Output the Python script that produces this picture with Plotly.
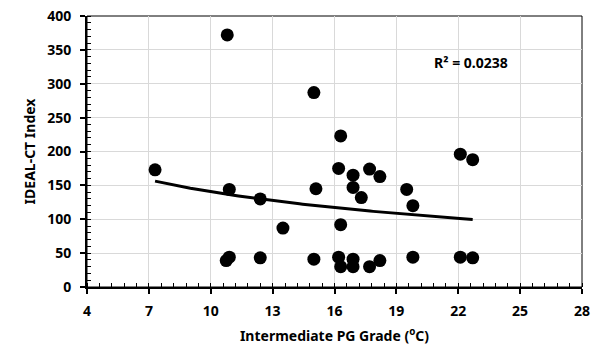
import numpy as np
import plotly.graph_objects as go

# Intermediate PG grade (°C) and IDEAL-CT index for each mixture
pg_grade = [7.3, 10.8, 10.9, 10.75, 10.9, 12.4, 12.4, 13.5, 15.0, 15.1, 15.0,
            16.2, 16.3, 16.3, 16.2, 16.3, 16.9, 16.9, 16.9, 16.9, 17.3, 17.7,
            17.7, 18.2, 18.2, 19.5, 19.8, 19.8, 22.1, 22.1, 22.7, 22.7]
ct_index = [173, 372, 144, 39, 44, 130, 43, 87, 287, 145, 41,
            175, 223, 92, 44, 30, 165, 147, 41, 30, 132, 174,
            30, 163, 39, 144, 120, 44, 196, 44, 188, 43]

x_ticks = [4, 7, 10, 13, 16, 19, 22, 25, 28]
y_ticks = [0, 50, 100, 150, 200, 250, 300, 350, 400]
r2_label = "R² = 0.0238"

# Logarithmic trendline fitted to the data: y = a + b ln(x)
xs = np.array(pg_grade)
ys = np.array(ct_index)
b, a = np.polyfit(np.log(xs), ys, 1)
trend_x = np.linspace(xs.min(), xs.max(), 100)
trend_y = a + b * np.log(trend_x)

family = "'Noto Sans', 'Open Sans', sans-serif"
bold = dict(family=family, size=14, color="black", weight=700)

fig = go.Figure()
fig.add_trace(go.Scatter(
    x=pg_grade, y=ct_index, mode="markers",
    marker=dict(size=13, color="black"),
    showlegend=False, hoverinfo="x+y",
))
fig.add_trace(go.Scatter(
    x=trend_x, y=trend_y, mode="lines",
    line=dict(color="black", width=3),
    showlegend=False, hoverinfo="skip",
))

fig.add_annotation(
    x=0.775, y=0.83, xref="paper", yref="paper",
    text=r2_label, showarrow=False, font=bold,
    xanchor="center", yanchor="middle",
)

# Thin frame on top and right of the plot area
fig.add_shape(type="rect", xref="x domain", yref="y domain",
              x0=0, x1=1, y0=0, y1=1,
              line=dict(color="black", width=1), layer="below")

fig.update_layout(
    width=592, height=350,
    margin=dict(l=87, r=10, t=16, b=63),
    paper_bgcolor="white", plot_bgcolor="white",
    font=bold,
)
fig.update_xaxes(
    range=[4, 28], tickvals=x_ticks, automargin=False,
    showgrid=True, gridcolor="#d9d9d9", gridwidth=1,
    showline=True, linecolor="black", linewidth=2,
    ticks="outside", ticklen=5, tickwidth=1.5, tickcolor="black",
    ticklabelstandoff=5,
    minor=dict(dtick=0.6, tick0=4, ticks="inside", ticklen=4,
               tickwidth=1, tickcolor="black", showgrid=False),
    zeroline=False,
    title=dict(text="Intermediate PG Grade (<sup>o</sup>C)",
               font=bold, standoff=12),
    tickfont=bold,
)
fig.update_yaxes(
    range=[0, 400], tickvals=y_ticks, automargin=False,
    showgrid=True, gridcolor="#d9d9d9", gridwidth=1,
    showline=True, linecolor="black", linewidth=2,
    ticks="outside", ticklen=5, tickwidth=1.5, tickcolor="black",
    ticklabelstandoff=6,
    minor=dict(dtick=10, tick0=0, ticks="inside", ticklen=4,
               tickwidth=1, tickcolor="black", showgrid=False),
    zeroline=False,
    title=dict(text="IDEAL-CT Index", font=bold, standoff=8),
    tickfont=bold,
)

fig.write_html("out.html")
